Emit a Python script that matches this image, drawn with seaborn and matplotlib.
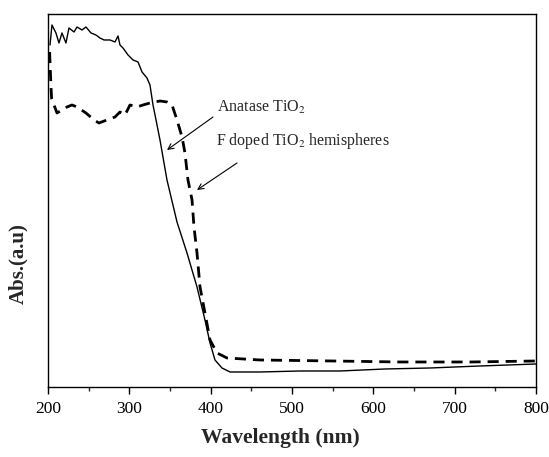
import matplotlib
matplotlib.use("Agg")
import matplotlib.pyplot as plt
import seaborn as sns
import pandas as pd
from matplotlib.ticker import MultipleLocator

# Anatase TiO2 (solid)
anatase_nm = [202.5, 204.9, 209.8, 213.5, 217.2, 222.1, 225.8, 232.0, 235.7, 241.8,
              246.7, 252.9, 259.0, 263.9, 268.9, 276.2, 282.4, 286.1, 288.5, 292.2,
              298.4, 304.5, 310.7, 315.6, 321.7, 325.4, 329.1, 331.6, 337.7, 346.3,
              358.6, 370.9, 383.2, 393.0, 399.2, 405.3, 413.9, 423.8, 460.7, 509.8,
              559.0, 614.4, 669.7, 731.2, 800.0]
anatase_abs = [342, 362, 354, 344, 354, 344, 359, 355, 360, 357,
               360, 354, 352, 349, 347, 347, 345, 351, 342, 339,
               332, 327, 325, 315, 309, 302, 282, 272, 247, 207,
               165, 134, 100, 67, 44, 27, 19, 15, 15, 16,
               16, 18, 19, 21, 23]

# F doped TiO2 hemispheres (dashed)
fdoped_nm = [202.0, 203.7, 204.5, 207.4, 211.1, 217.2, 223.4, 229.5, 235.7, 246.7,
             256.6, 262.7, 272.5, 282.4, 288.5, 294.7, 300.8, 309.4, 316.8, 325.4,
             337.7, 346.3, 352.5, 358.6, 364.8, 368.4, 372.1, 377.1, 379.5, 383.2,
             386.9, 393.0, 399.2, 407.8, 420.1, 460.7, 550.0, 632.8, 720.0, 800.0]
fdoped_abs = [335, 300, 288, 282, 274, 277, 280, 282, 280, 274,
              267, 264, 267, 270, 275, 272, 282, 280, 282, 284,
              286, 285, 282, 267, 250, 234, 207, 187, 160, 134,
              100, 74, 47, 34, 29, 27, 26, 25, 25, 26]

xticks = [200, 300, 400, 500, 600, 700, 800]

sns.set_style("white")
plt.rcParams['font.family'] = ['Liberation Serif', 'DejaVu Serif']
plt.rcParams['mathtext.fontset'] = 'stix'

fig = plt.figure(figsize=(5.49, 4.57), dpi=100)
ax = fig.add_axes([0.0874, 0.1532, 0.889, 0.8162])

df_a = pd.DataFrame({"nm": anatase_nm, "abs": anatase_abs})
df_f = pd.DataFrame({"nm": fdoped_nm, "abs": fdoped_abs})
sns.lineplot(data=df_a, x="nm", y="abs", ax=ax, color="black", lw=1.0,
             sort=False, estimator=None)
sns.lineplot(data=df_f, x="nm", y="abs", ax=ax, color="black", lw=2.0,
             sort=False, estimator=None, linestyle=(0, (4, 2.5)))

ax.set_xlim(200, 800)
ax.set_ylim(0, 373)
ax.set_xticks(xticks)
ax.set_xticklabels([str(t) for t in xticks], fontsize=12.5)
ax.xaxis.set_minor_locator(MultipleLocator(50))
ax.tick_params(axis='x', which='major', direction='out', length=5, width=1,
               bottom=True, colors='black', pad=5)
ax.tick_params(axis='x', which='minor', direction='out', length=3, width=1,
               bottom=True)
ax.set_yticks([])
for s in ax.spines.values():
    s.set_color('black')
    s.set_linewidth(1.0)

ax.set_xlabel("Wavelength (nm)", fontsize=15.5, fontweight='bold')
ax.xaxis.set_label_coords(0.477, -0.110)
ax.set_ylabel("Abs.(a.u)", fontsize=15, fontweight='bold')
ax.yaxis.set_label_coords(-0.041, 0.33)

ax.annotate("Anatase TiO$_2$", xy=(346.3, 237), xytext=(407.8, 280),
            fontsize=11.5, va='center', ha='left')
ax.annotate("", xy=(346.3, 237), xytext=(402.9, 270),
            arrowprops=dict(arrowstyle='->', color='black', lw=0.8,
                            shrinkA=0, shrinkB=0))
ax.annotate("F doped TiO$_2$ hemispheres", xy=(383.2, 197), xytext=(406.6, 246),
            fontsize=11.5, va='center', ha='left')
ax.annotate("", xy=(383.2, 197), xytext=(432.4, 224),
            arrowprops=dict(arrowstyle='->', color='black', lw=0.8,
                            shrinkA=0, shrinkB=0))

fig.savefig("out.png", dpi=100)
